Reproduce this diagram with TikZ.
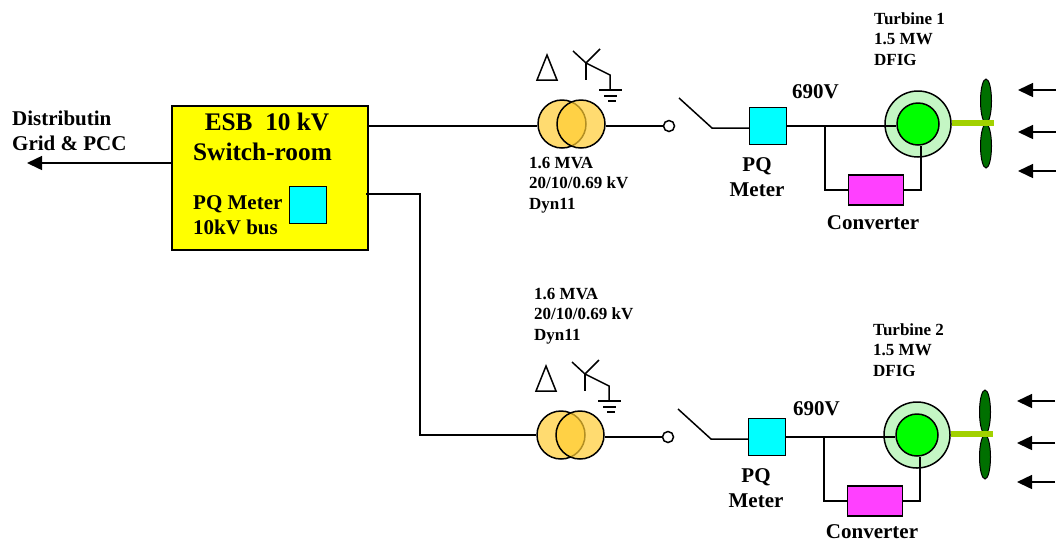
\documentclass[tikz,border=0pt]{standalone}
\usepackage{fontspec}
\setmainfont{Liberation Serif}
\usetikzlibrary{arrows.meta, shapes.geometric}
\definecolor{roomyellow}{HTML}{FFFF00}
\definecolor{metercyan}{HTML}{00FFFF}
\definecolor{xfmrgold}{HTML}{FFCC33}
\definecolor{bladegreen}{HTML}{007000}
\definecolor{shaftgreen}{HTML}{A2D100}
\definecolor{convfill}{HTML}{FF40FF}
\definecolor{ringfill}{HTML}{C4F6C4}
\tikzset{
    wire/.style={line width=1.5pt},
    inflow/.style={wire, -{Triangle[length=15pt,width=14pt]}},
    lbl/.style={font=\fontsize{17}{20.5}\selectfont\bfseries, align=left, inner sep=0pt, anchor=west},
    lblbig/.style={font=\fontsize{21}{24.5}\selectfont\bfseries, align=left, inner sep=0pt},
    lblroom/.style={font=\fontsize{25.3}{31}\selectfont\bfseries, inner sep=0pt},
    meter/.style={draw, line width=1.5pt, fill=metercyan, minimum size=37pt, inner sep=0pt},
    xfmr/.style={circle, draw, line width=1.5pt, minimum size=48pt, inner sep=0pt, fill=xfmrgold, fill opacity=.7},
    stator/.style={circle, draw, line width=1.5pt, minimum size=66pt, inner sep=0pt, fill=ringfill},
    rotor/.style={circle, draw, line width=1.5pt, minimum size=42pt, inner sep=0pt, fill=green},
    conv/.style={draw, line width=1.5pt, minimum width=55pt, minimum height=30pt, inner sep=0pt, fill=convfill},
    blade/.style={ellipse, draw, line width=1pt, fill=bladegreen, minimum width=11pt, minimum height=44pt, inner sep=0pt},
    term/.style={circle, draw, line width=1.5pt, fill=white, minimum size=11pt, inner sep=0pt}
}
\begin{document}
\begin{tikzpicture}[x=1pt, y=-1pt]
    \useasboundingbox (0,0) rectangle (1056,542);

    % switch-room
    \node[draw, line width=1.5pt, fill=roomyellow, minimum width=196pt, minimum height=144pt, inner sep=0pt] (room) at (270,178) {};
    \node[lblroom] (roomtxt) at (267,122) {ESB\ \ 10 kV};
    \node[lblroom] (roomsub) at (262.5,152) {Switch-room};
    \node[lblbig, anchor=west] (roompq) at (193,215) {PQ Meter\\10kV bus};
    \node[meter] (roommeter) at (308,205) {};
    \node[lblbig, anchor=west] (gridtxt) at (12,131) {Distributin\\Grid \& PCC};
    \coordinate (gridend) at (27,163);
    \coordinate (roomw) at (172,163);
    \draw[inflow] (roomw) -- (gridend);

    % the two turbine branches
    \foreach \n/\dy/\dxa in {1/0/0, 2/311/-1} {
        \begin{scope}[shift={(\dxa,\dy)}]
            \node[xfmr] (xfa\n) at (562,124) {};
            \node[xfmr] (xfb\n) at (581,124) {};
            \node[term] (term\n) at (669,126) {};
            \node[meter] (pq\n) at (768,126) {};
            \node[stator] (gen\n) at (918,124) {};
            \node[rotor] (rot\n) at (918,124) {};
            \node[conv] (conv\n) at (876,190) {};
            \coordinate (tee\n) at (825,126);

            \draw[wire] (xfb\n.east) ++(0,2) -- (term\n.west);
            \draw[wire] (pq\n.east) -- (tee\n) -- (rot\n.west |- tee\n);
            \draw[wire] (tee\n) |- (conv\n.west);
            \draw[wire] (conv\n.east) -| (rot\n.south -| 921,0);

            % switch
            \coordinate (swa\n) at (679,98);
            \coordinate (swb\n) at (712,128);
            \draw[wire] (swa\n) -- (swb\n) -- (pq\n.west |- swb\n);

            % delta and earthed star
            \draw[wire] (537,80) -- (557,80) -- (547,55) -- cycle;
            \draw[wire] (573,51) -- (586,63) -- (600,49);
            \draw[wire] (586,63) -- (586,80);
            \draw[wire] (586,63) -- (610,75) -- (610,90);
            \draw[wire] (599,90) -- (622,90);
            \draw[wire] (604,96) -- (617,96);
            \draw[wire] (608,101) -- (616,101);

            % rotor shaft and blades
            \node[blade] (bla\n) at (986,101) {};
            \node[blade] (blb\n) at (986,146) {};
            \draw[shaftgreen, line width=6pt] (952,123) -- (994,123);

            \foreach \y in {90,132,171} {
                \coordinate (wa\n\y) at (1056,\y);
                \coordinate (wb\n\y) at (1018,\y);
                \draw[inflow] (wa\n\y) -- (wb\n\y);
            }
        \end{scope}
    }

    % bus connections
    \coordinate (busa) at (368,126);
    \coordinate (busb) at (366,194);
    \draw[wire] (busa) -- (xfa1.west |- busa);
    \draw[wire] (busb) -| (420,435) -- (xfa2.west |- 0,435);

    % labels
    \node[lbl] (xft1) at (529,185) {1.6 MVA\\20/10/0.69 kV\\Dyn11};
    \node[lbl] (xft2) at (534,316) {1.6 MVA\\20/10/0.69 kV\\Dyn11};
    \node[lbl] (tur1) at (874,39) {Turbine 1\\1.5 MW\\DFIG};
    \node[lbl] (tur2) at (873,350) {Turbine 2\\1.5 MW\\DFIG};
    \node[lblbig, anchor=west] (v1) at (792,92) {690V};
    \node[lblbig, anchor=west] (v2) at (793,409) {690V};
    \node[lblbig, align=center] (pqt1) at (757,177) {PQ\\Meter};
    \node[lblbig, align=center] (pqt2) at (756,488) {PQ\\Meter};
    \node[lblroom, font=\fontsize{21}{24.5}\selectfont\bfseries] (cvt1) at (873,223) {Converter};
    \node[lblroom, font=\fontsize{21}{24.5}\selectfont\bfseries] (cvt2) at (872,532) {Converter};
\end{tikzpicture}
\end{document}
